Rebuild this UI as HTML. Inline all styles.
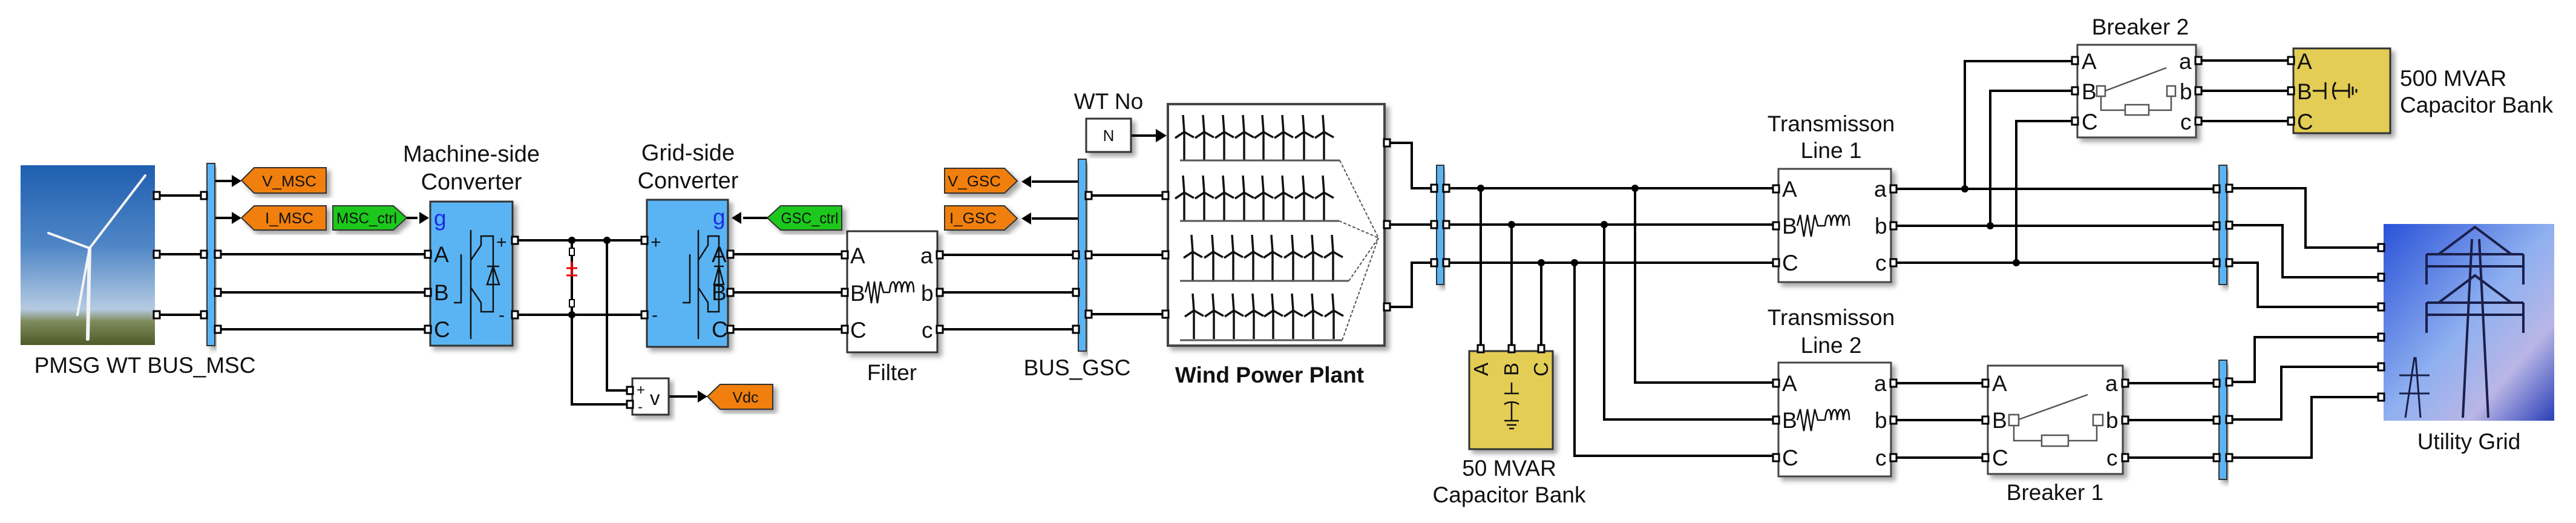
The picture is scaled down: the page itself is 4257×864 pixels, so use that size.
<!DOCTYPE html>
<html><head><meta charset="utf-8"><style>
html,body{margin:0;padding:0;background:#fff;}
svg{display:block;}
text{font-family:"Liberation Sans",sans-serif;fill:#111;}
.t{font-size:25px;}
</style></head><body>
<svg width="4257" height="864" viewBox="0 0 4257 864" xmlns="http://www.w3.org/2000/svg">
<defs>
 <linearGradient id="sky" x1="0" y1="0" x2="0" y2="1">
  <stop offset="0" stop-color="#1f5fb0"/><stop offset="0.45" stop-color="#4f86c6"/><stop offset="0.8" stop-color="#b6cbe2"/><stop offset="0.87" stop-color="#7d8a5a"/><stop offset="1" stop-color="#4f5a2a"/>
 </linearGradient>
 <linearGradient id="grid" x1="0" y1="0" x2="1" y2="1">
  <stop offset="0" stop-color="#2a52d8"/><stop offset="0.5" stop-color="#8fb0f0"/><stop offset="0.75" stop-color="#b9b6e6"/><stop offset="1" stop-color="#2a3fb8"/>
 </linearGradient>
 <filter id="sh" x="-10%" y="-10%" width="130%" height="130%"><feDropShadow dx="6" dy="6" stdDeviation="4" flood-color="#000" flood-opacity="0.35"/></filter>
 <g id="tb" stroke="#111" stroke-width="3.5" fill="none">
  <line x1="0" y1="0" x2="0" y2="-47"/>
  <line x1="0" y1="-47" x2="-2" y2="-75"/>
  <line x1="0" y1="-47" x2="-15" y2="-37"/>
  <line x1="0" y1="-47" x2="16" y2="-38"/>
 </g>
 <rect id="pt" x="-5" y="-6" width="10" height="12" fill="#fff" stroke="#000" stroke-width="3"/>
</defs>

<g stroke="#000" stroke-width="4" fill="none">
 <path d="M259 323H340M259 420H340M259 520H340"/>
 <path d="M355 299H385M355 360H385"/>
 <path d="M355 420H711M355 483H711M355 544H711"/>
 <path d="M672 360H690"/>
 <path d="M847 397H1069M847 520H1069M945 397V520M1003 397V645H1045M945 520V668H1045M1105 655H1152"/>
 <path d="M1290 360H1228"/>
 <path d="M1203 420H1400M1203 483H1400M1203 544H1400"/>
 <path d="M1549 421H1782M1549 483H1782M1549 544H1782"/>
 <path d="M1782 300H1705M1782 361H1705"/>
 <path d="M1795 323H1924M1795 421H1924M1795 519H1924"/>
 <path d="M1869 224H1910"/>
 <path d="M2288 236H2333V311H2374M2288 371H2374M2288 507H2333V434H2374"/>
 <path d="M2386 311H2939M2386 371H2939M2386 434H2939"/>
 <path d="M2447 311V580M2498 371V580M2547 434V580"/>
 <path d="M2702 311V632H2939M2651 371V693H2939M2602 434V753H2939"/>
 <path d="M3125 312H3667M3125 373H3667M3125 434H3667"/>
 <path d="M3247 312V101H3433M3289 373V150H3433M3332 434V200H3433"/>
 <path d="M3629 100H3790M3629 150H3790M3629 200H3790"/>
 <path d="M3125 633H3285M3125 694H3285M3125 756H3285"/>
 <path d="M3508 633H3667M3508 694H3667M3508 756H3667"/>
 <path d="M3680 311H3810V409H3939M3680 372H3772V458H3939M3680 434H3731V507H3939"/>
 <path d="M3680 631H3726V557H3939M3680 693H3770V606H3939M3680 756H3820V656H3939"/>
</g>
<g fill="#000">
 <circle cx="945" cy="397" r="6"/><circle cx="1003" cy="397" r="6"/><circle cx="945" cy="520" r="6"/>
 <circle cx="2447" cy="311" r="6"/><circle cx="2498" cy="371" r="6"/><circle cx="2547" cy="434" r="6"/>
 <circle cx="2702" cy="311" r="6"/><circle cx="2651" cy="371" r="6"/><circle cx="2602" cy="434" r="6"/>
 <circle cx="3247" cy="312" r="6"/><circle cx="3289" cy="373" r="6"/><circle cx="3332" cy="434" r="6"/>
 <path d="M399 299L383 289V309Z"/><path d="M399 360L383 350V370Z"/>
 <path d="M709 360L693 350V370Z"/><path d="M1209 360L1225 350V370Z"/>
 <path d="M1169 655L1153 645V665Z"/>
 <path d="M1688 300L1704 290V310Z"/><path d="M1688 361L1704 351V371Z"/>
 <path d="M1928 224L1910 213V235Z"/>
</g>

<rect x="34" y="273" width="222" height="297" fill="url(#sky)"/>
<g stroke="#f4f4f4" fill="none" stroke-linecap="round">
 <line x1="145" y1="560" x2="148" y2="410" stroke-width="6"/>
 <line x1="148" y1="410" x2="240" y2="290" stroke-width="4"/>
 <line x1="148" y1="410" x2="80" y2="385" stroke-width="4"/>
 <line x1="148" y1="410" x2="128" y2="520" stroke-width="4"/>
</g>
<text x="145" y="616" font-size="37" text-anchor="middle">PMSG WT</text>

<rect x="342" y="270" width="13" height="301" fill="#5ab4f4" stroke="#333" stroke-width="2" filter="url(#sh)"/>
<text x="333" y="616" font-size="37" text-anchor="middle">BUS_MSC</text>

<path d="M399 298L420 277H539V319H420Z" fill="#f07f0a" stroke="#333" stroke-width="2" filter="url(#sh)"/>
<text x="478" y="308" class="t" text-anchor="middle" textLength="90" lengthAdjust="spacingAndGlyphs">V_MSC</text>
<path d="M399 360L420 340H539V380H420Z" fill="#f07f0a" stroke="#333" stroke-width="2" filter="url(#sh)"/>
<text x="478" y="369" class="t" text-anchor="middle" textLength="80" lengthAdjust="spacingAndGlyphs">I_MSC</text>
<path d="M550 340H650L672 360L650 380H550Z" fill="#1ec81e" stroke="#333" stroke-width="2" filter="url(#sh)"/>
<text x="606" y="369" class="t" text-anchor="middle" textLength="100" lengthAdjust="spacingAndGlyphs">MSC_ctrl</text>
<path d="M1268 360L1290 340H1391V380H1290Z" fill="#1ec81e" stroke="#333" stroke-width="2" filter="url(#sh)"/>
<text x="1338" y="369" class="t" text-anchor="middle" textLength="95" lengthAdjust="spacingAndGlyphs">GSC_ctrl</text>
<path d="M1169 655L1190 635H1277V676H1190Z" fill="#f07f0a" stroke="#333" stroke-width="2" filter="url(#sh)"/>
<text x="1232" y="665" class="t" text-anchor="middle">Vdc</text>
<path d="M1561 278H1660L1681 299L1660 319H1561Z" fill="#f07f0a" stroke="#333" stroke-width="2" filter="url(#sh)"/>
<text x="1610" y="308" class="t" text-anchor="middle" textLength="88" lengthAdjust="spacingAndGlyphs">V_GSC</text>
<path d="M1561 340H1660L1681 361L1660 380H1561Z" fill="#f07f0a" stroke="#333" stroke-width="2" filter="url(#sh)"/>
<text x="1608" y="369" class="t" text-anchor="middle" textLength="78" lengthAdjust="spacingAndGlyphs">I_GSC</text>

<rect x="711" y="333" width="136" height="238" fill="#5ab4f4" stroke="#333" stroke-width="3" filter="url(#sh)"/>
<text x="779" y="267" font-size="38" text-anchor="middle">Machine-side</text>
<text x="779" y="313" font-size="38" text-anchor="middle">Converter</text>
<text x="717" y="373" font-size="37" style="fill:#1a2ee0">g</text>
<text x="717" y="433" font-size="37">A</text><text x="717" y="496" font-size="37">B</text><text x="717" y="557" font-size="37">C</text>
<text x="820" y="410" font-size="30">+</text><text x="824" y="530" font-size="30">-</text>
<g stroke="#111" stroke-width="2.5" fill="none">
 <path d="M778 380V560M762 420V500H750M778 430L795 405V390H815V515H795V500L778 475M815 440L805 470H825Z M805 440H825"/>
</g>
<rect x="1069" y="330" width="134" height="243" fill="#5ab4f4" stroke="#333" stroke-width="3" filter="url(#sh)"/>
<text x="1137" y="265" font-size="38" text-anchor="middle">Grid-side</text>
<text x="1137" y="311" font-size="38" text-anchor="middle">Converter</text>
<text x="1178" y="371" font-size="37" style="fill:#1a2ee0">g</text>
<text x="1176" y="433" font-size="37">A</text><text x="1176" y="496" font-size="37">B</text><text x="1176" y="557" font-size="37">C</text>
<text x="1075" y="410" font-size="30">+</text><text x="1077" y="530" font-size="30">-</text>
<g stroke="#111" stroke-width="2.5" fill="none">
 <path d="M1154 380V560M1140 420V500H1128M1154 430L1170 405V390H1188V515H1170V500L1154 475M1188 440L1180 470H1196Z M1180 440H1196"/>
</g>
<rect x="941" y="410" width="8" height="12" fill="#fff" stroke="#000" stroke-width="2"/>
<rect x="941" y="495" width="8" height="12" fill="#fff" stroke="#000" stroke-width="2"/>
<path d="M945 432V455M936 443H954M936 455H954" stroke="#e00" stroke-width="3"/>
<rect x="1045" y="625" width="60" height="60" fill="#fff" stroke="#333" stroke-width="3" filter="url(#sh)"/>
<text x="1052" y="652" font-size="24">+</text><text x="1054" y="680" font-size="24">-</text><text x="1074" y="669" font-size="33">v</text>

<rect x="1400" y="382" width="149" height="200" fill="#fff" stroke="#333" stroke-width="3" filter="url(#sh)"/>
<text x="1405" y="435" font-size="37">A</text><text x="1405" y="497" font-size="37">B</text><text x="1405" y="558" font-size="37">C</text>
<text x="1521" y="435" font-size="37">a</text><text x="1522" y="497" font-size="37">b</text><text x="1523" y="558" font-size="37">c</text>
<path d="M1430 483L1435 465L1440 501L1445 465L1450 501L1455 465L1460 483H1470M1470 483C1472 460 1480 460 1480 483C1482 460 1490 460 1490 483C1492 460 1500 460 1500 483C1502 460 1510 460 1510 483" stroke="#111" stroke-width="2.5" fill="none"/>
<text x="1474" y="628" font-size="37" text-anchor="middle">Filter</text>

<rect x="1782" y="263" width="13" height="317" fill="#5ab4f4" stroke="#333" stroke-width="2" filter="url(#sh)"/>
<text x="1780" y="620" font-size="37" text-anchor="middle">BUS_GSC</text>

<text x="1832" y="180" font-size="37" text-anchor="middle">WT No</text>
<rect x="1795" y="196" width="74" height="55" fill="#fff" stroke="#333" stroke-width="3" filter="url(#sh)"/>
<text x="1832" y="233" font-size="26" text-anchor="middle">N</text>

<rect x="1930" y="172" width="358" height="399" fill="#fff" stroke="#444" stroke-width="4" filter="url(#sh)"/>
<g>
 <use href="#tb" x="1957" y="265"/><use href="#tb" x="1990" y="265"/><use href="#tb" x="2023" y="265"/><use href="#tb" x="2056" y="265"/><use href="#tb" x="2088" y="265"/><use href="#tb" x="2121" y="265"/><use href="#tb" x="2155" y="265"/><use href="#tb" x="2188" y="265"/>
 <use href="#tb" x="1957" y="365"/><use href="#tb" x="1990" y="365"/><use href="#tb" x="2023" y="365"/><use href="#tb" x="2056" y="365"/><use href="#tb" x="2088" y="365"/><use href="#tb" x="2121" y="365"/><use href="#tb" x="2155" y="365"/><use href="#tb" x="2188" y="365"/>
 <use href="#tb" x="1971" y="463"/><use href="#tb" x="2005" y="463"/><use href="#tb" x="2038" y="463"/><use href="#tb" x="2071" y="463"/><use href="#tb" x="2103" y="463"/><use href="#tb" x="2137" y="463"/><use href="#tb" x="2170" y="463"/><use href="#tb" x="2203" y="463"/>
 <use href="#tb" x="1973" y="560"/><use href="#tb" x="2006" y="560"/><use href="#tb" x="2039" y="560"/><use href="#tb" x="2072" y="560"/><use href="#tb" x="2104" y="560"/><use href="#tb" x="2137" y="560"/><use href="#tb" x="2170" y="560"/><use href="#tb" x="2204" y="560"/>
</g>
<g stroke="#555" stroke-width="3" fill="none">
 <path d="M1950 265H2214M1950 365H2213M1950 464H2229M1950 562H2218"/>
</g>
<g stroke="#555" stroke-width="2" fill="none" stroke-dasharray="5 3">
 <path d="M2214 265L2278 393M2213 365L2278 393M2229 464L2278 393M2218 562L2278 393"/>
</g>
<text x="2098" y="632" font-size="37" font-weight="bold" text-anchor="middle">Wind Power Plant</text>

<rect x="2374" y="273" width="12" height="197" fill="#5ab4f4" stroke="#333" stroke-width="2" filter="url(#sh)"/>

<rect x="2428" y="580" width="138" height="162" fill="#e3cd55" stroke="#333" stroke-width="3" filter="url(#sh)"/>
<text transform="translate(2459 610) rotate(-90)" font-size="33" text-anchor="middle">A</text>
<text transform="translate(2509 610) rotate(-90)" font-size="33" text-anchor="middle">B</text>
<text transform="translate(2558 610) rotate(-90)" font-size="33" text-anchor="middle">C</text>
<path d="M2498 632V650M2486 650H2510M2486 668C2492 663 2504 663 2510 668M2498 665V695M2486 695H2510M2490 702H2506M2494 708H2502" stroke="#111" stroke-width="2.5" fill="none"/>
<text x="2494" y="786" font-size="37" text-anchor="middle">50 MVAR</text>
<text x="2494" y="830" font-size="37" text-anchor="middle">Capacitor Bank</text>

<text x="3026" y="217" font-size="37" text-anchor="middle">Transmisson</text>
<text x="3026" y="261" font-size="37" text-anchor="middle">Line 1</text>
<rect x="2939" y="279" width="186" height="187" fill="#fff" stroke="#444" stroke-width="3" filter="url(#sh)"/>
<text x="2945" y="325" font-size="37">A</text><text x="2945" y="386" font-size="37">B</text><text x="2945" y="447" font-size="37">C</text>
<text x="3097" y="325" font-size="37">a</text><text x="3098" y="386" font-size="37">b</text><text x="3099" y="447" font-size="37">c</text>
<path d="M2970 373L2975 355L2981 391L2987 355L2993 391L2999 355L3004 373H3016M3016 373C3018 350 3026 350 3026 373C3028 350 3036 350 3036 373C3038 350 3046 350 3046 373C3048 350 3056 350 3056 373" stroke="#111" stroke-width="2.5" fill="none"/>

<text x="3026" y="537" font-size="37" text-anchor="middle">Transmisson</text>
<text x="3026" y="583" font-size="37" text-anchor="middle">Line 2</text>
<rect x="2939" y="599" width="186" height="188" fill="#fff" stroke="#444" stroke-width="3" filter="url(#sh)"/>
<text x="2945" y="646" font-size="37">A</text><text x="2945" y="707" font-size="37">B</text><text x="2945" y="769" font-size="37">C</text>
<text x="3097" y="646" font-size="37">a</text><text x="3098" y="707" font-size="37">b</text><text x="3099" y="769" font-size="37">c</text>
<path d="M2970 694L2975 676L2981 712L2987 676L2993 712L2999 676L3004 694H3016M3016 694C3018 671 3026 671 3026 694C3028 671 3036 671 3036 694C3038 671 3046 671 3046 694C3048 671 3056 671 3056 694" stroke="#111" stroke-width="2.5" fill="none"/>

<text x="3537" y="57" font-size="37" text-anchor="middle">Breaker 2</text>
<rect x="3433" y="74" width="196" height="153" fill="#fff" stroke="#444" stroke-width="3" filter="url(#sh)"/>
<text x="3440" y="114" font-size="37">A</text><text x="3440" y="164" font-size="37">B</text><text x="3440" y="214" font-size="37">C</text>
<text x="3601" y="114" font-size="37">a</text><text x="3602" y="164" font-size="37">b</text><text x="3603" y="214" font-size="37">c</text>
<g stroke="#555" stroke-width="2.5" fill="none">
 <rect x="3465" y="142" width="14" height="17" fill="#fff"/><rect x="3581" y="142" width="14" height="17" fill="#fff"/>
 <path d="M3479 150L3580 112M3472 159V182H3512M3551 182H3588V159"/>
 <rect x="3512" y="173" width="39" height="17" fill="#fff"/>
</g>
<rect x="3285" y="604" width="223" height="179" fill="#fff" stroke="#444" stroke-width="3" filter="url(#sh)"/>
<text x="3292" y="646" font-size="37">A</text><text x="3292" y="707" font-size="37">B</text><text x="3292" y="769" font-size="37">C</text>
<text x="3479" y="646" font-size="37">a</text><text x="3480" y="707" font-size="37">b</text><text x="3481" y="769" font-size="37">c</text>
<g stroke="#555" stroke-width="2.5" fill="none">
 <rect x="3320" y="685" width="16" height="18" fill="#fff"/><rect x="3459" y="685" width="16" height="18" fill="#fff"/>
 <path d="M3336 693L3450 652M3328 703V728H3374M3418 728H3465V703"/>
 <rect x="3374" y="719" width="44" height="18" fill="#fff"/>
</g>
<text x="3396" y="826" font-size="37" text-anchor="middle">Breaker 1</text>

<rect x="3790" y="80" width="160" height="140" fill="#e3cd55" stroke="#333" stroke-width="3" filter="url(#sh)"/>
<text x="3796" y="114" font-size="37">A</text><text x="3796" y="164" font-size="37">B</text><text x="3796" y="214" font-size="37">C</text>
<path d="M3822 150H3843M3843 136V164M3860 136C3854 143 3854 157 3860 164M3857 150H3882M3882 138V162M3888 143V157M3894 147V153" stroke="#111" stroke-width="3" fill="none"/>
<text x="3966" y="142" font-size="37">500 MVAR</text>
<text x="3966" y="186" font-size="37">Capacitor Bank</text>

<rect x="3667" y="273" width="13" height="197" fill="#5ab4f4" stroke="#333" stroke-width="2" filter="url(#sh)"/>
<rect x="3667" y="595" width="13" height="197" fill="#5ab4f4" stroke="#333" stroke-width="2" filter="url(#sh)"/>

<rect x="3939" y="370" width="282" height="325" fill="url(#grid)"/>
<g stroke="#1a1f4a" stroke-width="4" fill="none">
 <path d="M4070 690L4085 395M4112 690L4097 395M4010 420H4170M4010 440H4170M4010 500H4170M4010 520H4170M4010 420V470M4170 420V470M4010 500V550M4170 500V550M4030 420L4090 375L4150 420M4030 500L4090 455L4150 500"/>
 <path d="M3975 690L3990 590M4000 690L3992 590M3965 620H4015M3965 650H4015" stroke-width="3"/>
</g>
<text x="4080" y="742" font-size="37" text-anchor="middle">Utility Grid</text>

<g>
 <use href="#pt" x="259" y="323"/><use href="#pt" x="259" y="420"/><use href="#pt" x="259" y="520"/>
 <use href="#pt" x="337" y="323"/><use href="#pt" x="337" y="420"/><use href="#pt" x="337" y="520"/>
 <use href="#pt" x="360" y="420"/><use href="#pt" x="360" y="483"/><use href="#pt" x="360" y="544"/>
 <use href="#pt" x="707" y="420"/><use href="#pt" x="707" y="483"/><use href="#pt" x="707" y="544"/>
 <use href="#pt" x="851" y="397"/><use href="#pt" x="851" y="520"/>
 <use href="#pt" x="1065" y="397"/><use href="#pt" x="1065" y="520"/>
 <use href="#pt" x="1207" y="420"/><use href="#pt" x="1207" y="483"/><use href="#pt" x="1207" y="544"/>
 <use href="#pt" x="1396" y="421"/><use href="#pt" x="1396" y="483"/><use href="#pt" x="1396" y="544"/>
 <use href="#pt" x="1553" y="421"/><use href="#pt" x="1553" y="483"/><use href="#pt" x="1553" y="544"/>
 <use href="#pt" x="1778" y="421"/><use href="#pt" x="1778" y="483"/><use href="#pt" x="1778" y="544"/>
 <use href="#pt" x="1799" y="323"/><use href="#pt" x="1799" y="421"/><use href="#pt" x="1799" y="519"/>
 <use href="#pt" x="1926" y="323"/><use href="#pt" x="1926" y="421"/><use href="#pt" x="1926" y="519"/>
 <use href="#pt" x="2292" y="236"/><use href="#pt" x="2292" y="371"/><use href="#pt" x="2292" y="507"/>
 <use href="#pt" x="2370" y="311"/><use href="#pt" x="2370" y="371"/><use href="#pt" x="2370" y="434"/>
 <use href="#pt" x="2390" y="311"/><use href="#pt" x="2390" y="371"/><use href="#pt" x="2390" y="434"/>
 <use href="#pt" x="2447" y="576"/><use href="#pt" x="2498" y="576"/><use href="#pt" x="2547" y="576"/>
 <use href="#pt" x="2935" y="312"/><use href="#pt" x="2935" y="373"/><use href="#pt" x="2935" y="434"/>
 <use href="#pt" x="3129" y="312"/><use href="#pt" x="3129" y="373"/><use href="#pt" x="3129" y="434"/>
 <use href="#pt" x="2935" y="633"/><use href="#pt" x="2935" y="694"/><use href="#pt" x="2935" y="756"/>
 <use href="#pt" x="3129" y="633"/><use href="#pt" x="3129" y="694"/><use href="#pt" x="3129" y="756"/>
 <use href="#pt" x="3281" y="633"/><use href="#pt" x="3281" y="694"/><use href="#pt" x="3281" y="756"/>
 <use href="#pt" x="3512" y="633"/><use href="#pt" x="3512" y="694"/><use href="#pt" x="3512" y="756"/>
 <use href="#pt" x="3429" y="100"/><use href="#pt" x="3429" y="150"/><use href="#pt" x="3429" y="200"/>
 <use href="#pt" x="3633" y="100"/><use href="#pt" x="3633" y="150"/><use href="#pt" x="3633" y="200"/>
 <use href="#pt" x="3786" y="100"/><use href="#pt" x="3786" y="150"/><use href="#pt" x="3786" y="200"/>
 <use href="#pt" x="3663" y="312"/><use href="#pt" x="3663" y="373"/><use href="#pt" x="3663" y="434"/>
 <use href="#pt" x="3684" y="311"/><use href="#pt" x="3684" y="372"/><use href="#pt" x="3684" y="434"/>
 <use href="#pt" x="3663" y="633"/><use href="#pt" x="3663" y="694"/><use href="#pt" x="3663" y="756"/>
 <use href="#pt" x="3684" y="631"/><use href="#pt" x="3684" y="693"/><use href="#pt" x="3684" y="756"/>
 <use href="#pt" x="3935" y="409"/><use href="#pt" x="3935" y="458"/><use href="#pt" x="3935" y="507"/>
 <use href="#pt" x="3935" y="557"/><use href="#pt" x="3935" y="606"/><use href="#pt" x="3935" y="656"/>
 <use href="#pt" x="1041" y="645"/><use href="#pt" x="1041" y="668"/>
</g>
</svg>
</body></html>
